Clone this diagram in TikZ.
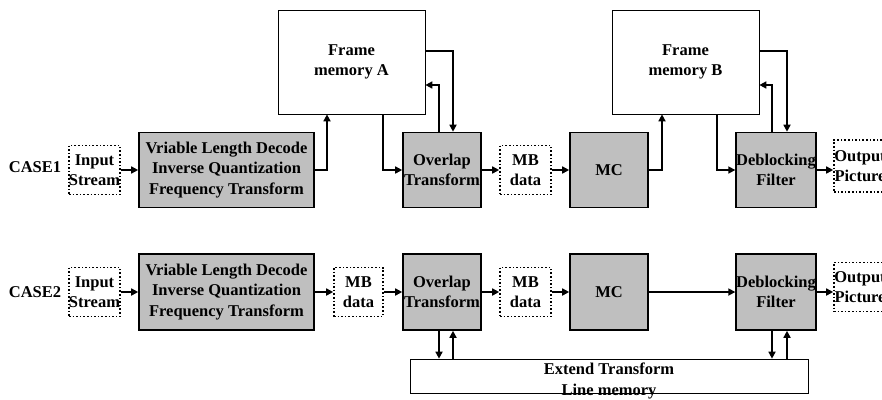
\documentclass[tikz,border=0pt]{standalone}
\usepackage{fontspec}
\setmainfont{Liberation Serif}
\usepackage{tikz}
\usetikzlibrary{arrows.meta}

\begin{document}
\begin{tikzpicture}[x=1pt, y=-1pt,
	every node/.style={font=\fontsize{16.5}{20.5}\selectfont\bfseries, align=center, inner sep=0pt},
	blk/.style={draw, line width=1.6pt, fill=black!25},
	mem/.style={draw, line width=0.7pt, fill=white},
	dat/.style={draw, dotted, line width=1.6pt},
	arr/.style={-{Triangle[length=7pt,width=7pt]}, line width=1.6pt}]
			\useasboundingbox (0,0) rectangle (882,399);
			% Nodes (case 1)
			\node (case1) at (35,167) {CASE1};
			\node[dat, minimum width=49pt, minimum height=49pt] (in1) at (94.5,170) {Input\\Stream};
			\node[blk, minimum width=175pt, minimum height=75pt] (vld1) at (226.5,170) {Vriable Length Decode\\Inverse Quantization\\Frequency Transform};
			\node[mem, minimum width=147pt, minimum height=104pt] (fa) at (351.5,62) {Frame\\memory A};
			\node[blk, minimum width=78pt, minimum height=75pt] (ov1) at (442,170) {Overlap\\Transform};
			\node[dat, minimum width=51pt, minimum height=49pt] (mb1) at (525.5,170) {MB\\data};
			\node[blk, minimum width=78pt, minimum height=75pt] (mc1) at (609,170) {MC};
			\node[mem, minimum width=147pt, minimum height=104pt] (fb) at (685.5,62) {Frame\\memory B};
			\node[blk, minimum width=78pt, minimum height=75pt] (db1) at (776,170) {Deblocking\\Filter};
			\node[dat, minimum width=52pt, minimum height=52pt] (out1) at (860,166) {Output\\Picture};
			% Nodes (case 2)
			\node (case2) at (35,292) {CASE2};
			\node[dat, minimum width=49pt, minimum height=49pt] (in2) at (94.5,292) {Input\\Stream};
			\node[blk, minimum width=175pt, minimum height=76pt] (vld2) at (226.5,292) {Vriable Length Decode\\Inverse Quantization\\Frequency Transform};
			\node[dat, minimum width=49pt, minimum height=49pt] (mb0) at (358.5,292) {MB\\data};
			\node[blk, minimum width=78pt, minimum height=76pt] (ov2) at (442,292) {Overlap\\Transform};
			\node[dat, minimum width=51pt, minimum height=49pt] (mb2) at (525.5,292) {MB\\data};
			\node[blk, minimum width=78pt, minimum height=76pt] (mc2) at (609,292) {MC};
			\node[blk, minimum width=78pt, minimum height=76pt] (db2) at (776,292) {Deblocking\\Filter};
			\node[dat, minimum width=52pt, minimum height=49pt] (out2) at (860,287) {Output\\Picture};
			\node[mem, minimum width=398pt, minimum height=34pt] (lm) at (609,376) {};
			\node (lmtxt) at (609,381) {Extend Transform\\Line memory};
			% Edges (case 1)
			\draw[arr] (in1) -- (vld1);
			\draw[arr] (vld1.east) -| ([xshift=-24.5pt]fa.south);
			\draw[arr] ([xshift=31.5pt]fa.south) |- (ov1.west);
			\draw[arr] ([xshift=-3pt]ov1.north) |- ([yshift=-23pt]fa.east);
			\draw[arr] ([yshift=11pt]fa.east) -| ([xshift=11pt]ov1.north);
			\draw[arr] (ov1) -- (mb1);
			\draw[arr] (mb1) -- (mc1);
			\draw[arr] (mc1.east) -| ([xshift=-23.5pt]fb.south);
			\draw[arr] ([xshift=31.5pt]fb.south) |- (db1.west);
			\draw[arr] ([xshift=-4pt]db1.north) |- ([yshift=-23pt]fb.east);
			\draw[arr] ([yshift=11pt]fb.east) -| ([xshift=11pt]db1.north);
			\draw[arr] (db1.east) -- (db1.east -| out1.west);
			% Edges (case 2)
			\draw[arr] (in2) -- (vld2);
			\draw[arr] (vld2) -- (mb0);
			\draw[arr] (mb0) -- (ov2);
			\draw[arr] (ov2) -- (mb2);
			\draw[arr] (mb2) -- (mc2);
			\draw[arr] (mc2) -- (db2);
			\draw[arr] (db2.east) -- (db2.east -| out2.west);
			\draw[arr] ([xshift=-3pt]ov2.south) -- ([xshift=-3pt]ov2.south |- lm.north);
			\draw[arr] ([xshift=11pt]ov2.south |- lm.north) -- ([xshift=11pt]ov2.south);
			\draw[arr] ([xshift=-4pt]db2.south) -- ([xshift=-4pt]db2.south |- lm.north);
			\draw[arr] ([xshift=11pt]db2.south |- lm.north) -- ([xshift=11pt]db2.south);
		\end{tikzpicture}
\end{document}
